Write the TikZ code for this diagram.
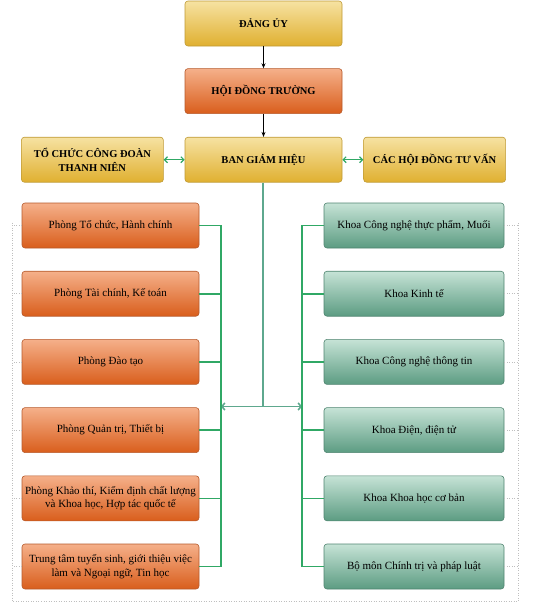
\documentclass[tikz,border=0pt]{standalone}
\usepackage{fontspec}
\setmainfont{Liberation Serif}
\usepackage{xcolor}
\usetikzlibrary{positioning, arrows.meta}

\definecolor{goldtop}{HTML}{F6E2A2}
\definecolor{goldbot}{HTML}{E0B030}
\definecolor{goldline}{HTML}{BF9A35}
\definecolor{orgtop}{HTML}{F5B08A}
\definecolor{orgbot}{HTML}{D95E1C}
\definecolor{orgline}{HTML}{B65A2C}
\definecolor{tealtop}{HTML}{C6E3D6}
\definecolor{tealbot}{HTML}{5C9C82}
\definecolor{tealline}{HTML}{4F8470}
\definecolor{busgreen}{HTML}{30A865}
\definecolor{trunkgreen}{HTML}{5EA88E}

\begin{document}
\begin{tikzpicture}[
    x=1pt, y=1pt,
    node distance=22.6pt,
    box/.style={rectangle, rounded corners=3pt, draw, line width=0.6pt, align=center, inner sep=1pt, minimum height=45pt},
    gold/.style={box, top color=goldtop, bottom color=goldbot, draw=goldline, minimum width=157pt, font=\bfseries\fontsize{10.5}{14}\selectfont},
    side/.style={gold, minimum width=142pt},
    council/.style={box, top color=orgtop, bottom color=orgbot, draw=orgline, minimum width=157pt, font=\bfseries\fontsize{10.5}{14}\selectfont},
    office/.style={box, top color=orgtop, bottom color=orgbot, draw=orgline, minimum width=177pt, font=\fontsize{11}{13.5}\selectfont},
    faculty/.style={box, top color=tealtop, bottom color=tealbot, draw=tealline, minimum width=180pt, font=\fontsize{11}{13.5}\selectfont},
    bus/.style={color=busgreen, line width=1.6pt},
    link/.style={color=busgreen, line width=1.2pt, {Straight Barb[length=3pt,width=6pt]}-{Straight Barb[length=3pt,width=6pt]}},
    trunk/.style={color=trunkgreen, line width=1.6pt},
    guide/.style={draw=black!25, dotted, line width=0.5pt}
]
\useasboundingbox (0,0) rectangle (537,-611);

% Leadership
\node[gold] (dang) at (263.5,-23.5) {ĐẢNG ỦY};
\node[council, below=22pt of dang] (hdt) {HỘI ĐỒNG TRƯỜNG};
\node[gold, below=23pt of hdt] (bgh) {BAN GIÁM HIỆU};
\node[side, left=21pt of bgh] (cdtn) {TỔ CHỨC CÔNG ĐOÀN\\THANH NIÊN};
\node[side, right=21pt of bgh] (hdtv) {CÁC HỘI ĐỒNG TƯ VẤN};

% Offices (left column)
\node[office] (p1) at (110.5,-225.5) {Phòng Tổ chức, Hành chính};
\node[office, below=of p1] (p2) {Phòng Tài chính, Kế toán};
\node[office, below=of p2] (p3) {Phòng Đào tạo};
\node[office, below=of p3] (p4) {Phòng Quản trị, Thiết bị};
\node[office, below=of p4] (p5) {Phòng Khảo thí, Kiểm định chất lượng\\và Khoa học, Hợp tác quốc tế};
\node[office, below=of p5] (p6) {Trung tâm tuyển sinh, giới thiệu việc\\làm và Ngoại ngữ, Tin học};

% Faculties (right column)
\node[faculty] (k1) at (414,-225.5) {Khoa Công nghệ thực phẩm, Muối};
\node[faculty, below=of k1] (k2) {Khoa Kinh tế};
\node[faculty, below=of k2] (k3) {Khoa Công nghệ thông tin};
\node[faculty, below=of k3] (k4) {Khoa Điện, điện tử};
\node[faculty, below=of k4] (k5) {Khoa Khoa học cơ bản};
\node[faculty, below=of k5] (k6) {Bộ môn Chính trị và pháp luật};

% Dotted frame
\coordinate (frameL) at (12,-601);
\coordinate (frameR) at (518,-601);
\draw[guide] (p1.west -| frameL) ++(0,3) -- (frameL) -- (frameR) -- ([yshift=3pt]k1.east -| frameR);
\foreach \n in {1,...,6} {
    \draw[guide] (p\n.west) -- (p\n.west -| frameL);
    \draw[guide] (k\n.east) -- (k\n.east -| frameR);
}

% Edges
\draw[-{Stealth[length=5pt,width=4pt]}, line width=0.8pt] (dang) -- (hdt);
\draw[-{Stealth[length=5pt,width=4pt]}, line width=0.8pt] (hdt) -- (bgh);
\draw[link] (bgh) -- (cdtn);
\draw[link] (bgh) -- (hdtv);

\coordinate (lbus) at ([xshift=21.5pt]p1.east);
\coordinate (rbus) at ([xshift=-21.5pt]k1.west);
\coordinate (trunktop) at ([xshift=-0.5pt]bgh.south);
\coordinate (split) at ([yshift=-224pt]trunktop);
\draw[trunk] (trunktop) -- (split);
\draw[trunk, -{Straight Barb[length=3pt,width=7pt]}] (split) -- (split -| lbus);
\draw[trunk, -{Straight Barb[length=3pt,width=7pt]}] (split) -- (split -| rbus);

\foreach \n in {1,...,6} {
    \draw[bus] (p\n.east) -- (p\n.east -| lbus);
    \draw[bus] (k\n.west) -- (k\n.west -| rbus);
}
\draw[bus, line cap=rect] (lbus) -- (lbus |- p6.east);
\draw[bus, line cap=rect] (rbus) -- (rbus |- k6.west);

\end{tikzpicture}
\end{document}
